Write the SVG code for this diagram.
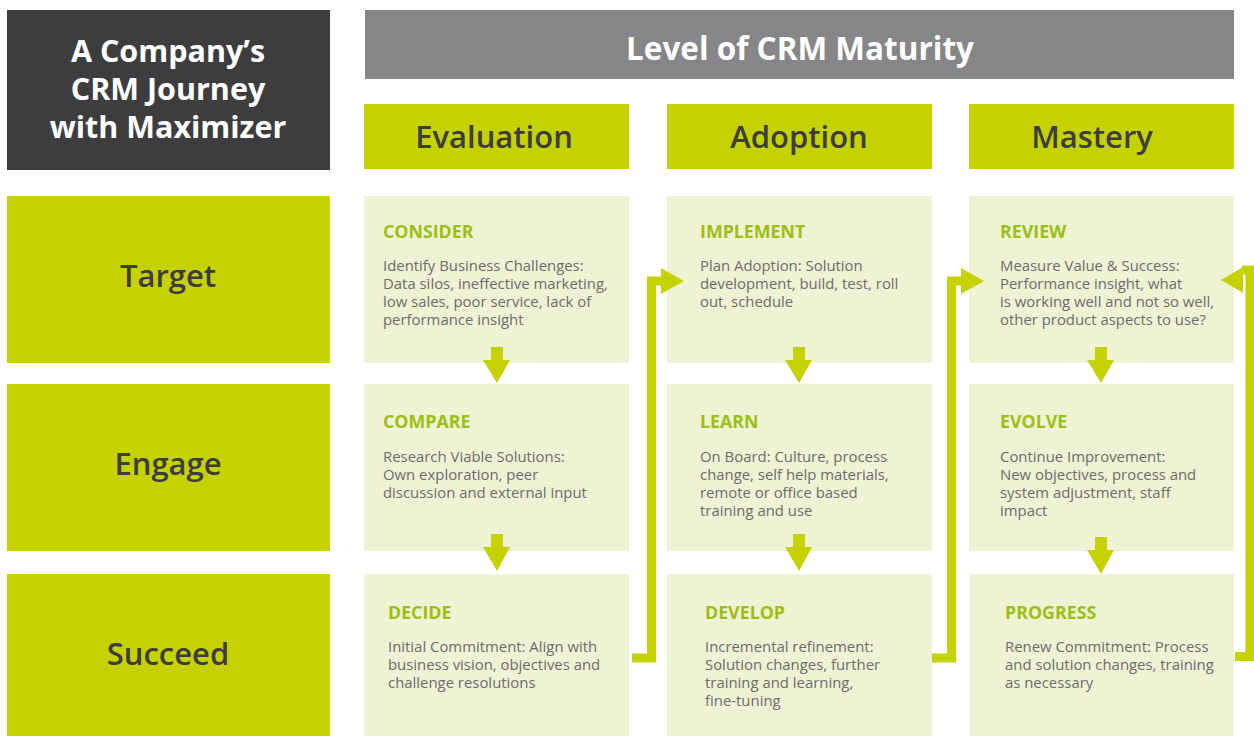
<svg xmlns="http://www.w3.org/2000/svg" width="1254" height="736" viewBox="0 0 1254 736">
  <style>
    .title { font-family: "Open Sans", "Noto Sans", sans-serif; font-weight: 700; font-size: 30.5px; fill: #ffffff; text-anchor: middle; }
    .banner { font-size: 31.5px; }
    .colhead { font-family: "Open Sans", "Noto Sans", sans-serif; font-weight: 600; font-size: 31px; fill: #3d3d3f; text-anchor: middle; }
    .rowlabel { font-family: "Open Sans", "Noto Sans", sans-serif; font-weight: 600; font-size: 31px; fill: #3d3d3f; text-anchor: middle; }
    .step { font-family: "Open Sans", "Noto Sans", sans-serif; font-weight: 700; font-size: 17.8px; fill: #9bbf12; }
    .body { font-family: "Open Sans", "Noto Sans", sans-serif; font-weight: 400; font-size: 14.9px; fill: #6b6c6e; }
    .cell { fill: #eff3d3; }
    .lime { fill: #c5d200; }
    .link { fill: none; stroke: #c5d200; stroke-width: 9; }
    .head { fill: #c5d200; }
  </style>

  <!-- Title block -->
  <g id="title">
    <rect x="7" y="10" width="323" height="160" fill="#3d3d3f"/>
    <text class="title" x="168" y="62">A Company’s</text>
    <text class="title" x="168" y="100">CRM Journey</text>
    <text class="title" x="168" y="138">with Maximizer</text>
  </g>

  <!-- Maturity banner -->
  <g id="maturity">
    <rect x="365" y="10" width="869" height="69" fill="#868688"/>
    <text class="title banner" x="800" y="60">Level of CRM Maturity</text>
  </g>

  <!-- Column headers -->
  <g id="col-evaluation">
    <rect class="lime" x="364" y="104" width="265" height="65"/>
    <text class="colhead" x="494" y="148">Evaluation</text>
  </g>
  <g id="col-adoption">
    <rect class="lime" x="667" y="104" width="265" height="65"/>
    <text class="colhead" x="799" y="148">Adoption</text>
  </g>
  <g id="col-mastery">
    <rect class="lime" x="969" y="104" width="265" height="65"/>
    <text class="colhead" x="1092" y="148">Mastery</text>
  </g>

  <!-- Row labels -->
  <g id="row-target">
    <rect class="lime" x="7" y="196" width="323" height="167"/>
    <text class="rowlabel" x="168" y="287">Target</text>
  </g>
  <g id="row-engage">
    <rect class="lime" x="7" y="384" width="323" height="167"/>
    <text class="rowlabel" x="168" y="475">Engage</text>
  </g>
  <g id="row-succeed">
    <rect class="lime" x="7" y="574" width="323" height="162"/>
    <text class="rowlabel" x="168" y="665">Succeed</text>
  </g>

  <!-- Evaluation column -->
  <g id="consider">
    <rect class="cell" x="364" y="196" width="265" height="167"/>
    <text class="step" x="383" y="238">CONSIDER</text>
    <text class="body" x="383" y="271">Identify Business Challenges:</text>
    <text class="body" x="383" y="289">Data silos, ineffective marketing,</text>
    <text class="body" x="383" y="307">low sales, poor service, lack of</text>
    <text class="body" x="383" y="325">performance insight</text>
  </g>
  <g id="compare">
    <rect class="cell" x="364" y="384" width="265" height="167"/>
    <text class="step" x="383" y="428">COMPARE</text>
    <text class="body" x="383" y="462">Research Viable Solutions:</text>
    <text class="body" x="383" y="480">Own exploration, peer</text>
    <text class="body" x="383" y="498">discussion and external input</text>
  </g>
  <g id="decide">
    <rect class="cell" x="364" y="574" width="265" height="162"/>
    <text class="step" x="388" y="619">DECIDE</text>
    <text class="body" x="388" y="652">Initial Commitment: Align with</text>
    <text class="body" x="388" y="670">business vision, objectives and</text>
    <text class="body" x="388" y="688">challenge resolutions</text>
  </g>

  <!-- Adoption column -->
  <g id="implement">
    <rect class="cell" x="667" y="196" width="265" height="167"/>
    <text class="step" x="700" y="238">IMPLEMENT</text>
    <text class="body" x="700" y="271">Plan Adoption: Solution</text>
    <text class="body" x="700" y="289">development, build, test, roll</text>
    <text class="body" x="700" y="307">out, schedule</text>
  </g>
  <g id="learn">
    <rect class="cell" x="667" y="384" width="265" height="167"/>
    <text class="step" x="700" y="428">LEARN</text>
    <text class="body" x="700" y="462">On Board: Culture, process</text>
    <text class="body" x="700" y="480">change, self help materials,</text>
    <text class="body" x="700" y="498">remote or office based</text>
    <text class="body" x="700" y="516">training and use</text>
  </g>
  <g id="develop">
    <rect class="cell" x="667" y="574" width="265" height="162"/>
    <text class="step" x="705" y="619">DEVELOP</text>
    <text class="body" x="705" y="652">Incremental refinement:</text>
    <text class="body" x="705" y="670">Solution changes, further</text>
    <text class="body" x="705" y="688">training and learning,</text>
    <text class="body" x="705" y="706">fine-tuning</text>
  </g>

  <!-- Mastery column -->
  <g id="review">
    <rect class="cell" x="969" y="196" width="265" height="167"/>
    <text class="step" x="1000" y="238">REVIEW</text>
    <text class="body" x="1000" y="271">Measure Value &amp; Success:</text>
    <text class="body" x="1000" y="289">Performance insight, what</text>
    <text class="body" x="1000" y="307">is working well and not so well,</text>
    <text class="body" x="1000" y="325">other product aspects to use?</text>
  </g>
  <g id="evolve">
    <rect class="cell" x="969" y="384" width="265" height="167"/>
    <text class="step" x="1000" y="428">EVOLVE</text>
    <text class="body" x="1000" y="462">Continue Improvement:</text>
    <text class="body" x="1000" y="480">New objectives, process and</text>
    <text class="body" x="1000" y="498">system adjustment, staff</text>
    <text class="body" x="1000" y="516">impact</text>
  </g>
  <g id="progress">
    <rect class="cell" x="970" y="574" width="264" height="162"/>
    <text class="step" x="1005" y="619">PROGRESS</text>
    <text class="body" x="1005" y="652">Renew Commitment: Process</text>
    <text class="body" x="1005" y="670">and solution changes, training</text>
    <text class="body" x="1005" y="688">as necessary</text>
  </g>

  <!-- Connectors -->
  <g id="connectors">
    <!-- downward arrows inside each column -->
    <path class="head" d="M491 347 H503 V360 H510 L497 383 L483 360 H491 Z"/>
    <path class="head" d="M491 534 H503 V547 H510 L497 571 L483 547 H491 Z"/>
    <path class="head" d="M793 347 H805 V360 H812 L799 383 L785 360 H793 Z"/>
    <path class="head" d="M793 534 H805 V547 H812 L799 571 L785 547 H793 Z"/>
    <path class="head" d="M1095 347 H1107 V360 H1114 L1101 383 L1087 360 H1095 Z"/>
    <path class="head" d="M1095 537 H1107 V550 H1114 L1101 574 L1087 550 H1095 Z"/>

    <!-- Decide to Implement -->
    <path class="link" d="M632 658 H651.5 V281 H662"/>
    <path class="head" d="M661 268 L684 281 L661 294 Z"/>

    <!-- Develop to Review -->
    <path class="link" d="M932 658 H951.5 V281 H962"/>
    <path class="head" d="M961 268 L984 281 L961 294 Z"/>

    <!-- Progress back to Review -->
    <path class="link" d="M1235 656.5 H1250 V270 H1242"/>
    <path class="head" d="M1243 267 L1221 280 L1243 293 Z"/>
  </g>
</svg>
